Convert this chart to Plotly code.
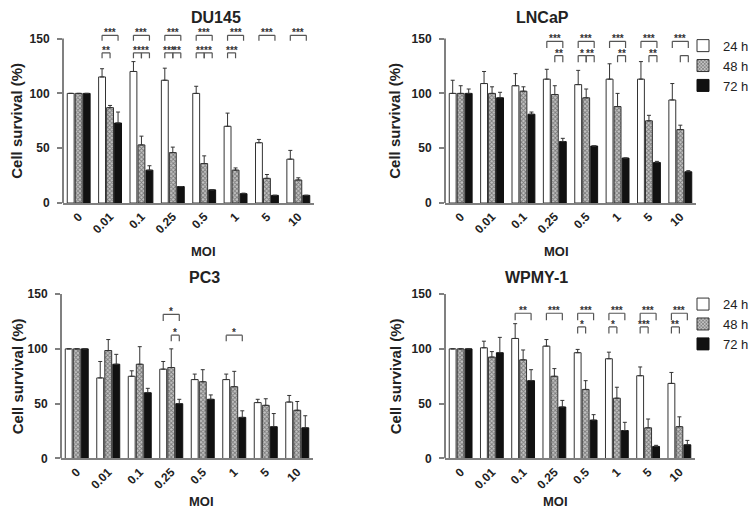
import plotly.graph_objects as go

# ---------------- data ----------------
moi_labels = ["0", "0.01", "0.1", "0.25", "0.5", "1", "5", "10"]
time_labels = ["24 h", "48 h", "72 h"]
panel_names = ["DU145", "LNCaP", "PC3", "WPMY-1"]

du145_24 = [100, 115, 120, 112, 100, 70, 55, 40]
du145_24_err = [0, 7.5, 9, 11, 6.5, 12, 3, 8]
du145_48 = [100, 87, 53, 46, 36, 30, 22.5, 21]
du145_48_err = [0, 2, 8, 5, 7, 2, 3.5, 2]
du145_72 = [100, 73, 30, 15, 12, 8.5, 7, 7]
du145_72_err = [0, 10, 4, 0, 0, 0.5, 0, 0]

lncap_24 = [100, 109, 107, 113, 108, 113, 113, 94]
lncap_24_err = [12, 11, 11, 9, 13, 14, 16, 15]
lncap_48 = [100, 100, 102, 99, 96, 88, 75, 67]
lncap_48_err = [7, 6, 4, 8, 8, 12, 5, 4]
lncap_72 = [100, 96, 81, 56, 52, 41, 37, 28.5]
lncap_72_err = [4, 5, 2, 3, 0, 0, 1, 1]

pc3_24 = [100, 73.5, 75, 81.5, 72, 72, 51, 51.5]
pc3_24_err = [0, 15, 5, 7, 5, 5, 3, 6]
pc3_48 = [100, 98.5, 86, 83, 70, 65.5, 48.5, 44]
pc3_48_err = [0, 10, 16, 17, 11, 14, 6, 8]
pc3_72 = [100, 86, 60, 50, 54, 37.5, 29, 28]
pc3_72_err = [0, 9, 4, 4, 4, 6, 12, 11]

wpmy_24 = [100, 101, 109.5, 102.5, 96.5, 91, 75.5, 68.5]
wpmy_24_err = [0, 6, 13.5, 6, 3, 6, 8, 10]
wpmy_48 = [100, 92.5, 90, 75, 63, 55, 28, 29]
wpmy_48_err = [0, 5, 9, 7, 8, 10, 8, 9]
wpmy_72 = [100, 96.5, 71, 47, 35, 25.5, 11, 12.5]
wpmy_72_err = [0, 14, 10, 6, 5, 7.5, 1, 4]

# significance: (MOI index, compared pair, stars, bracket row)
du145_sig = [(i, "24-72", "***", "top") for i in range(1, 8)] + [
    (1, "24-48", "**", "mid"),
    (2, "24-48", "**", "mid"), (2, "48-72", "**", "mid"),
    (3, "24-48", "***", "mid"), (3, "48-72", "**", "mid"),
    (4, "24-48", "**", "mid"), (4, "48-72", "**", "mid"),
    (5, "24-48", "***", "mid"),
]
lncap_sig = [(i, "24-72", "***", "top") for i in range(3, 8)] + [
    (3, "48-72", "**", "mid"),
    (4, "24-48", "*", "mid"), (4, "48-72", "**", "mid"),
    (5, "48-72", "**", "mid"),
    (6, "48-72", "**", "mid"),
    (7, "48-72", "", "mid"),
]
pc3_sig = [
    (3, "24-72", "*", "top"),
    (3, "48-72", "*", "mid"),
    (5, "24-72", "*", "mid"),
]
wpmy_sig = [(2, "24-72", "**", "top")] + [(i, "24-72", "***", "top") for i in range(3, 8)] + [
    (4, "24-48", "*", "mid"),
    (5, "24-48", "*", "mid"),
    (6, "24-48", "***", "mid"),
    (7, "24-48", "**", "mid"),
]

panels = [
    (du145_24, du145_24_err, du145_48, du145_48_err, du145_72, du145_72_err, du145_sig),
    (lncap_24, lncap_24_err, lncap_48, lncap_48_err, lncap_72, lncap_72_err, lncap_sig),
    (pc3_24, pc3_24_err, pc3_48, pc3_48_err, pc3_72, pc3_72_err, pc3_sig),
    (wpmy_24, wpmy_24_err, wpmy_48, wpmy_48_err, wpmy_72, wpmy_72_err, wpmy_sig),
]

# ---------------- layout / style ----------------
W, H = 756, 515
FONT = "Liberation Sans, Arial, sans-serif"
TXT = "#222222"
AXC = "#808080"
BARGAP = 0.235

# pixel boxes for each plot area: (left, right, y of value 0)
boxes = [(55, 306, 197.7), (437, 688, 197.7), (53, 305, 456.7), (437, 687, 456.7)]
PX_PER_UNIT = 1.1113
YMAX = 160
# bracket rows: (horizontal y, leg length) in data units
rows = [
    {"top": (153, 5), "mid": (137, 5)},
    {"top": (147.5, 6), "mid": (134.5, 6)},
    {"top": (131.5, 6), "mid": (112.5, 5.5)},
    {"top": (132.5, 6.5), "mid": (120, 6)},
]
title_px = [10, 10, 273, 273]
moi_px = [247, 247, 500, 500]
ytitle_px = [9, 387, 9, 387]

styles = [
    dict(color="white", line=dict(color="#333333", width=1)),
    dict(color="#9a9a9a", line=dict(color="#333333", width=1),
         pattern=dict(shape="x", size=3, solidity=0.5, fgcolor="#2e2e2e", bgcolor="#c4c4c4")),
    dict(color="#111111", line=dict(color="#111111", width=1)),
]

fig = go.Figure()
layout = dict(
    width=W, height=H, margin=dict(l=0, r=0, t=0, b=0),
    paper_bgcolor="white", plot_bgcolor="white",
    barmode="group", bargap=BARGAP, bargroupgap=0.14,
    font=dict(family=FONT, color=TXT),
    showlegend=True,
)
shapes, annotations = [], []
slot = (1 - BARGAP) / 3
offs = {"24": -slot, "48": 0.0, "72": slot}

for p, (v24, e24, v48, e48, v72, e72, sig) in enumerate(panels):
    n = p + 1
    xa = "x" if n == 1 else f"x{n}"
    ya = "y" if n == 1 else f"y{n}"
    left, right, y0px = boxes[p]
    ytop_px = y0px - YMAX * PX_PER_UNIT
    xdom = [left / W, right / W]
    ydom = [(H - y0px) / H, (H - ytop_px) / H]
    x = list(range(len(moi_labels)))
    for k, (vals, errs) in enumerate([(v24, e24), (v48, e48), (v72, e72)]):
        fig.add_trace(go.Bar(
            x=x, y=vals, name=time_labels[k], xaxis=xa, yaxis=ya,
            marker=styles[k],
            error_y=dict(type="data", array=errs, arrayminus=[0] * len(errs), symmetric=False,
                         color="#333333", thickness=1, width=2),
            showlegend=(p in (1, 3)),
            legend="legend" if p < 2 else "legend2",
        ))
    layout["xaxis" if n == 1 else f"xaxis{n}"] = dict(
        domain=xdom, anchor=ya, range=[-0.5, 7.5],
        tickvals=x, ticktext=moi_labels, tickangle=-45,
        tickfont=dict(size=12, family=FONT, color=TXT, weight="bold"),
        showline=True, linecolor=AXC, linewidth=2, ticks="", showgrid=False, zeroline=False,
    )
    layout["yaxis" if n == 1 else f"yaxis{n}"] = dict(
        domain=ydom, anchor=xa, range=[0, YMAX],
        tickvals=[0, 50, 100, 150], ticks="outside", ticklen=5, tickwidth=1.5, tickcolor=AXC,
        ticklabelstandoff=5,
        tickfont=dict(size=12, family=FONT, color=TXT, weight="bold"),
        showline=False, showgrid=False, zeroline=False,
    )
    # y axis line only up to 150
    shapes.append(dict(type="line", xref=f"{xa} domain", yref=ya, x0=0, x1=0, y0=0, y1=150,
                       line=dict(color=AXC, width=2)))
    cx = (xdom[0] + xdom[1]) / 2
    annotations.append(dict(text=panel_names[p], xref="paper", yref="paper", x=cx,
                            y=(H - title_px[p]) / H, showarrow=False, yanchor="middle",
                            font=dict(size=16, family=FONT, color=TXT, weight="bold")))
    annotations.append(dict(text="MOI", xref="paper", yref="paper", x=cx,
                            y=(H - moi_px[p]) / H, showarrow=False, yanchor="middle",
                            font=dict(size=13, family=FONT, color=TXT, weight="bold")))
    annotations.append(dict(text="Cell survival (%)", xref="paper", yref="paper",
                            x=ytitle_px[p] / W,
                            y=(H - (y0px - 75 * PX_PER_UNIT)) / H,
                            textangle=-90, showarrow=False, xanchor="center", yanchor="middle",
                            font=dict(size=15, family=FONT, color=TXT, weight="bold")))
    # significance brackets
    for (i, pair, stars, row) in sig:
        a, b = pair.split("-")
        xl, xr = i + offs[a], i + offs[b]
        yt, leg = rows[p][row]
        for (xs0, ys0, xs1, ys1) in [(xl, yt - leg, xl, yt), (xl, yt, xr, yt), (xr, yt, xr, yt - leg)]:
            shapes.append(dict(type="line", xref=xa, yref=ya, x0=xs0, y0=ys0, x1=xs1, y1=ys1,
                               line=dict(color="#555555", width=1.2)))
        if stars:
            annotations.append(dict(text=stars, xref=xa, yref=ya, x=(xl + xr) / 2, y=yt,
                                    yanchor="bottom", yshift=-5, showarrow=False,
                                    font=dict(size=10, family=FONT, color="#333333", weight="bold")))

legend_style = dict(x=675 / W, xanchor="left", yanchor="top", bgcolor="rgba(0,0,0,0)",
                    font=dict(size=13, family=FONT, color=TXT), tracegroupgap=0, itemwidth=30)
layout["legend"] = dict(y=(H - 23) / H, **legend_style)
layout["legend2"] = dict(y=(H - 285) / H, **legend_style)
layout["shapes"] = shapes
layout["annotations"] = annotations
fig.update_layout(**layout)
fig.write_html("out.html")
